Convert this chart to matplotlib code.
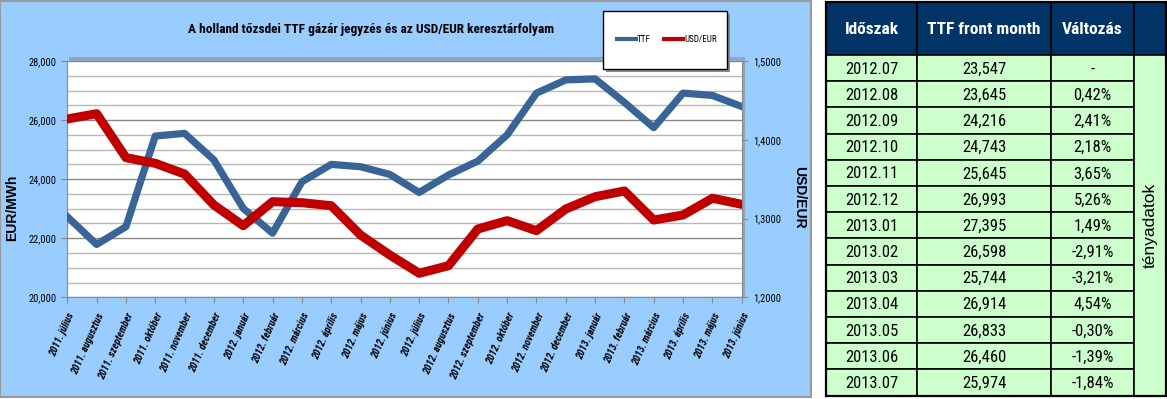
import numpy as np
import matplotlib.pyplot as plt
from matplotlib import font_manager as fm
from matplotlib.patches import Rectangle
from matplotlib.lines import Line2D
from matplotlib.ticker import FuncFormatter, MultipleLocator

W, H = 1167, 399

# pick a narrow font if one is installed, otherwise Arial-like and a bit smaller
names = {f.name for f in fm.fontManager.ttflist}
NARROW, K = 'Liberation Sans', 0.84
for cand in ['Liberation Sans Narrow', 'Roboto Condensed', 'Open Sans Condensed',
             'DejaVu Sans Condensed']:
    if cand in names:
        NARROW, K = cand, 1.0
        break
plt.rcParams['font.family'] = [NARROW, 'DejaVu Sans']

# chart data (EUR/MWh, USD/EUR)
honapok = ['2011. július', '2011. augusztus', '2011. szeptember', '2011. október',
           '2011. november', '2011. december', '2012. január', '2012. február',
           '2012. március', '2012. április', '2012. május', '2012. június',
           '2012. július', '2012. augusztus', '2012. szeptember', '2012. október',
           '2012. november', '2012. december', '2013. január', '2013. február',
           '2013. március', '2013. április', '2013. május', '2013. június']
ttf = [22.73, 21.79, 22.39, 25.46, 25.55, 24.65, 23.01, 22.17, 23.91, 24.50, 24.42, 24.16,
       23.55, 24.14, 24.61, 25.50, 26.91, 27.36, 27.395, 26.598, 25.744, 26.914, 26.833, 26.460]
usd_eur = [1.4264, 1.4331, 1.3773, 1.3701, 1.3565, 1.3172, 1.2909, 1.3214, 1.3201, 1.3163,
           1.2791, 1.2537, 1.2305, 1.2401, 1.2867, 1.2973, 1.2846, 1.3121, 1.3277, 1.3350,
           1.2981, 1.3045, 1.3257, 1.3181]

# table data
fejlec = ['Időszak', 'TTF front month', 'Változás']
idoszak = ['2012.07', '2012.08', '2012.09', '2012.10', '2012.11', '2012.12', '2013.01',
           '2013.02', '2013.03', '2013.04', '2013.05', '2013.06', '2013.07']
ttf_front = [23.547, 23.645, 24.216, 24.743, 25.645, 26.993, 27.395, 26.598, 25.744,
             26.914, 26.833, 26.460, 25.974]
valtozas = [None, 0.42, 2.41, 2.18, 3.65, 5.26, 1.49, -2.91, -3.21, 4.54, -0.30, -1.39, -1.84]

BLUE = '#386498'
RED = '#C00000'


def fx(px):
    return px / W


def fy(py):
    return 1 - py / H


def hu(v, d):
    return f'{v:.{d}f}'.replace('.', ',')


fig = plt.figure(figsize=(W / 100, H / 100), dpi=100)

# light blue chart panel + plot area shadow
fig.add_artist(Rectangle((0, fy(397)), fx(811), fy(1) - fy(397), transform=fig.transFigure,
                         facecolor='#99CCFF', edgecolor='#9A9A9A', lw=1.5, zorder=-3))
fig.add_artist(Rectangle((fx(69), fy(297)), fx(745) - fx(69), fy(57) - fy(297),
                         transform=fig.transFigure, facecolor='#8FA6BE', edgecolor='none',
                         zorder=-2))

ax = fig.add_axes([fx(67.3), fy(297.3), fx(741.7) - fx(67.3), fy(61) - fy(297.3)])
ax.set_facecolor('white')
x = np.arange(len(honapok))
ax.plot(x, ttf, color=BLUE, lw=5.2, zorder=3)
ax.set_xlim(0, len(honapok) - 1)
ax.set_ylim(20, 28)
ax.yaxis.set_major_locator(MultipleLocator(2))
ax.yaxis.set_minor_locator(MultipleLocator(0.5))
ax.yaxis.set_major_formatter(FuncFormatter(lambda v, p: hu(v, 3)))
ax.grid(axis='y', which='minor', color='#B8B8B8', lw=1)
ax.grid(axis='y', which='major', color='#888888', lw=1)
ax.set_axisbelow(True)
ax.set_xticks(x)
ax.set_xticklabels(honapok, rotation=66, ha='right', va='top', rotation_mode='anchor',
                   fontsize=7.3 * K, fontweight='bold', fontstyle='italic')
ax.tick_params(axis='x', length=4, color='#888888', pad=6)
ax.tick_params(axis='y', which='major', length=4, color='#888888', pad=4, labelsize=7.5 * K)
ax.tick_params(axis='y', which='minor', length=0)
for s in ['top', 'right']:
    ax.spines[s].set_visible(False)
for s in ['left', 'bottom']:
    ax.spines[s].set_color('#888888')

ax2 = ax.twinx()
ax2.plot(x, usd_eur, color=RED, lw=6.5)
ax2.set_ylim(1.2, 1.5)
ax2.yaxis.set_major_locator(MultipleLocator(0.1))
ax2.yaxis.set_major_formatter(FuncFormatter(lambda v, p: hu(v, 4)))
ax2.tick_params(axis='y', length=4, color='#888888', pad=4, labelsize=7.5 * K)
for s in ['top', 'left', 'bottom']:
    ax2.spines[s].set_visible(False)
ax2.spines['right'].set_color('#888888')

fig.text(fx(371), fy(30), 'A holland tőzsdei TTF gázár jegyzés és az USD/EUR keresztárfolyam',
         ha='center', va='center', fontsize=9.6 * K, fontweight='bold')
fig.text(fx(12), fy(208), 'EUR/MWh', rotation=90, ha='center', va='center', fontsize=10,
         fontweight='bold', family='Liberation Sans')
fig.text(fx(799), fy(197), 'USD/EUR', rotation=270, ha='center', va='center', fontsize=10,
         fontweight='bold', family='Liberation Sans')

# legend box with shadow
fig.add_artist(Rectangle((fx(606), fy(72)), fx(730) - fx(606), fy(14) - fy(72),
                         transform=fig.transFigure, facecolor='#7F8C99', edgecolor='none',
                         zorder=4))
fig.add_artist(Rectangle((fx(603), fy(69)), fx(727) - fx(603), fy(11) - fy(69),
                         transform=fig.transFigure, facecolor='white', edgecolor='black',
                         lw=1, zorder=4.5))
handles = [Line2D([], [], color=BLUE, lw=3), Line2D([], [], color=RED, lw=3)]
leg = fig.legend(handles, ['TTF', 'USD/EUR'], loc='center', ncol=2, frameon=False,
                 bbox_to_anchor=(fx(667), fy(40)), fontsize=6.5 * K, handlelength=2.1,
                 handletextpad=0.1, columnspacing=1.5)
leg.set_zorder(6)

# table
axt = fig.add_axes([fx(820), 0, fx(1167) - fx(820), 1])
axt.set_xlim(820, 1167)
axt.set_ylim(H, 0)
axt.axis('off')
col_edges = [826, 917, 1051, 1134, 1165.5]
top, head_bot, bot = 2, 55, 395.5
rh = (bot - head_bot) / len(idoszak)

for j in range(4):
    axt.add_patch(Rectangle((col_edges[j], top), col_edges[j + 1] - col_edges[j],
                            head_bot - top, facecolor='#003366', edgecolor='black', lw=1.2))
for j, t in enumerate(fejlec):
    axt.text((col_edges[j] + col_edges[j + 1]) / 2, (top + head_bot) / 2 + 1, t,
             ha='center', va='center', color='white', fontsize=12.5 * K, fontweight='bold')

for i, per in enumerate(idoszak):
    y0 = head_bot + i * rh
    valt = '-' if valtozas[i] is None else hu(valtozas[i], 2) + '%'
    cells = [per, hu(ttf_front[i], 3), valt]
    for j, t in enumerate(cells):
        axt.add_patch(Rectangle((col_edges[j], y0), col_edges[j + 1] - col_edges[j], rh,
                                facecolor='#CCFFCC', edgecolor='black', lw=1.2))
        axt.text((col_edges[j] + col_edges[j + 1]) / 2, y0 + rh / 2 + 1, t,
                 ha='center', va='center', fontsize=12 * K)

axt.add_patch(Rectangle((col_edges[3], head_bot), col_edges[4] - col_edges[3], bot - head_bot,
                        facecolor='#CCFFCC', edgecolor='black', lw=1.2))
axt.text((col_edges[3] + col_edges[4]) / 2 + 1, (head_bot + bot) / 2, 'tényadatok', rotation=90,
         ha='center', va='center', fontsize=12.5, family='Liberation Sans')
axt.add_patch(Rectangle((col_edges[0], top), col_edges[4] - col_edges[0], bot - top,
                        facecolor='none', edgecolor='black', lw=1.6))

fig.savefig('out.png', dpi=100)
